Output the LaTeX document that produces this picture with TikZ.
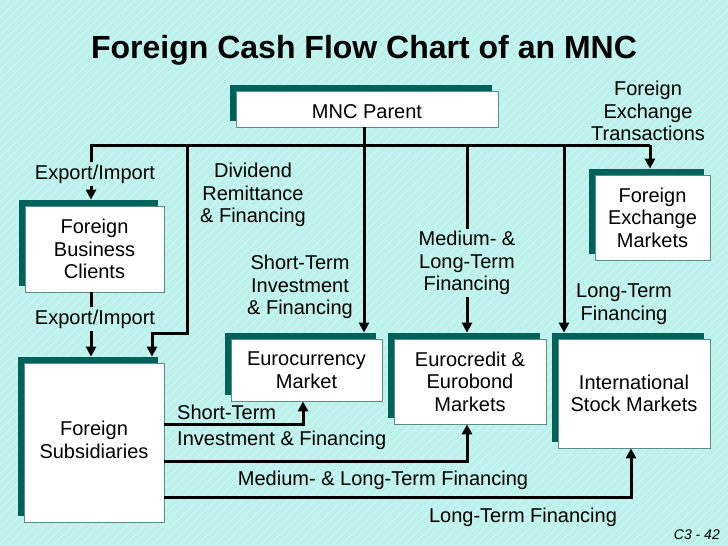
\documentclass[tikz,border=0pt]{standalone}
\usepackage{fontspec}
\setmainfont{Liberation Sans}
\usetikzlibrary{arrows.meta,shadows}
\definecolor{bg}{RGB}{188,241,236}
\definecolor{shd}{RGB}{0,98,90}
\definecolor{bd}{RGB}{90,140,140}
\newcommand\lblfont{\fontsize{20}{22.5}\selectfont}
\begin{document}
\begin{tikzpicture}[x=1pt,y=-1pt,
  box/.style={draw=bd, line width=0.8pt, fill=white, align=center, inner sep=0pt, font=\lblfont,
    general shadow={fill=shd, shadow xshift=-6pt, shadow yshift=6pt}},
  lbl/.style={align=center, inner sep=2pt, font=\lblfont},
  conn/.style={line width=3pt},
  arr/.style={conn, -{Triangle[length=10pt,width=10pt]}}]
% background
\fill[bg] (0,0) rectangle (728,546);
\useasboundingbox (0,0) rectangle (728,546);
\begin{scope}
\clip (0,0) rectangle (728,546);
\foreach \k in {0,9,...,1300} {\draw[bg!75!white, line width=1.2pt] (\k-560,546) -- (\k,0);}
\end{scope}
% title
\node[font=\bfseries\fontsize{32}{36}\selectfont] (title) at (364,50) {Foreign Cash Flow Chart of an MNC};
% boxes
\node[box, minimum width=262pt, minimum height=36pt] (parent) at (367,109) {\raisebox{-9pt}[0pt][0pt]{MNC Parent}};
\node[box, minimum width=139pt, minimum height=86pt] (fbc) at (94.5,249) {Foreign\\Business\\Clients};
\node[box, minimum width=140pt, minimum height=159pt] (fsub) at (94,442.5) {\raisebox{3pt}{\begin{tabular}{@{}c@{}}Foreign\\Subsidiaries\end{tabular}}};
\node[box, minimum width=151pt, minimum height=62pt] (euroc) at (306.5,370) {Eurocurrency\\Market};
\node[box, minimum width=152pt, minimum height=85pt] (eurob) at (470,381.5) {Eurocredit \&\\Eurobond\\Markets};
\node[box, minimum width=152pt, minimum height=109pt] (stock) at (634,393.5) {International\\Stock Markets};
\node[box, minimum width=115pt, minimum height=85pt] (fxm) at (652.5,217.5) {Foreign\\Exchange\\Markets};
% labels
\node[lbl] (ei1) at (95,174) {Export/Import};
\node[lbl] (ei2) at (95,319) {Export/Import};
\node[lbl] (div) at (253,195) {Dividend\\Remittance\\\& Financing};
\node[lbl] (sti) at (300,287) {Short-Term\\Investment\\\& Financing};
\node[lbl] (mlt) at (467,263) {Medium- \&\\Long-Term\\Financing};
\node[lbl] (ltf) at (624,304) {Long-Term\\Financing};
\node[lbl] (fxt) at (648,111) {Foreign\\Exchange\\Transactions};
\node[lbl, anchor=west] (st1) at (175,412) {Short-Term};
\node[lbl, anchor=west] (st2) at (175,440) {Investment \& Financing};
\node[lbl] (mlt2) at (383,480) {Medium- \& Long-Term Financing};
\node[lbl] (ltf2) at (523,517) {Long-Term Financing};
\node[font=\itshape\fontsize{14}{16}\selectfont, anchor=east, inner sep=0pt] (pg) at (720,535) {C3 - 42};
% coordinates
\coordinate (busL) at (91,145);
\coordinate (busR) at (650,145);
\coordinate (pj) at (364,145);
\coordinate (d1) at (187,145);
\coordinate (d1b) at (187,333);
\coordinate (d1c) at (152,333);
\coordinate (d2) at (467,145);
\coordinate (d3) at (564,145);
\coordinate (b1) at (303,424);
\coordinate (b2) at (467,461);
\coordinate (b3) at (631,497);
% connectors
\draw[conn] (parent.south -| pj) -- (pj);
\draw[conn] (ei1.north -| busL) -- (busL) -- (busR);
\draw[arr] (busR) -- ([yshift=6pt]fxm.north -| busR);
\draw[arr] (ei1.south -| busL) -- ([yshift=6pt]fbc.north -| busL);
\draw[conn] (fbc.south -| busL) -- (ei2.north -| busL);
\draw[arr] (ei2.south -| busL) -- ([yshift=6pt]fsub.north -| busL);
\draw[arr] (d1) -- (d1b) -- (d1c) -- ([yshift=6pt]fsub.north -| d1c);
\draw[arr] (pj) -- ([yshift=6pt]euroc.north -| pj);
\draw[conn] (d2) -- (mlt.north -| d2);
\draw[arr] (mlt.south -| d2) -- ([yshift=6pt]eurob.north -| d2);
\draw[arr] (d3) -- ([yshift=6pt]stock.north -| d3);
\draw[arr] (fsub.east |- b1) -- (b1) -- (euroc.south -| b1);
\draw[arr] (fsub.east |- b2) -- (b2) -- (eurob.south -| b2);
\draw[arr] (fsub.east |- b3) -- (b3) -- (stock.south -| b3);
\end{tikzpicture}
\end{document}
